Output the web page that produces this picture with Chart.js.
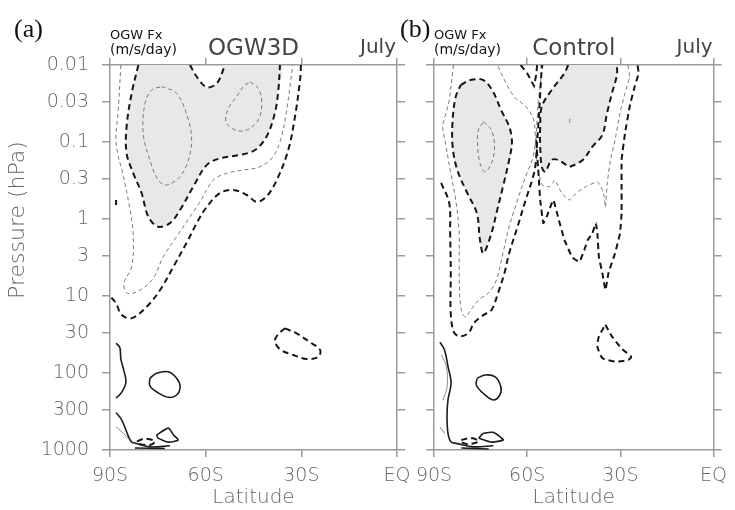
<!DOCTYPE html>
<html>
<head>
<meta charset="utf-8">
<script src="https://cdn.jsdelivr.net/npm/chart.js@4"></script>
<style>
  body { margin: 0; background: #fff; }
  canvas { position: absolute; left: 0; top: 0; }
</style>
</head>
<body>
<canvas id="panelA" width="735" height="510"></canvas>
<canvas id="panelB" width="735" height="510"></canvas>
<script>
const latTicks = [-90, -60, -30, 0];
const latLabels = ['90S', '60S', '30S', 'EQ'];
const pTicks = [0.01, 0.03, 0.1, 0.3, 1, 3, 10, 30, 100, 300, 1000];
const pLabels = ['0.01', '0.03', '0.1', '0.3', '1', '3', '10', '30', '100', '300', '1000'];

// contours are [latitude, pressure hPa] pairs

// (a) OGW3D
const aShadeEdge = [[-81.1,0.01],[-83.2,0.0233],[-84.8,0.063],[-84.8,0.14],[-82.7,0.255],[-80.1,0.46],[-78.0,0.93],[-74.9,1.26],[-71.2,1.13],[-68.0,0.76],[-63.9,0.38],[-59.7,0.20],[-55.5,0.163],[-49.2,0.147],[-44.5,0.127],[-40.9,0.085],[-38.3,0.042],[-37.2,0.0211],[-36.7,0.01]];
const aNotch = [[-64.9,0.01],[-62.8,0.0142],[-59.7,0.0194],[-56.5,0.0173],[-53.9,0.01]];
const aInner1 = [[-73.8,0.0191],[-69.1,0.0233],[-65.4,0.0518],[-64.4,0.0942],[-65.4,0.171],[-68.0,0.28],[-72.2,0.362],[-74.9,0.312],[-77.5,0.171],[-79.6,0.077],[-79.0,0.031],[-76.9,0.0211]];
const aInner2 = [[-46.1,0.0165],[-43.5,0.0201],[-42.4,0.0313],[-43.5,0.0518],[-47.1,0.0698],[-50.8,0.0698],[-53.6,0.0546],[-52.9,0.0365],[-50.3,0.0258],[-48.2,0.0191]];
const aThin = [[-86.6,0.01],[-87.4,0.0384],[-88.1,0.103],[-85.8,0.28],[-83.7,0.764],[-82.7,1.69],[-83.2,4.16],[-85.6,6.8],[-84.8,9.1],[-82.7,9.2],[-79.6,7.9],[-76.4,5.9],[-73.3,3.1],[-69.1,1.70],[-64.9,0.93],[-61.8,0.60],[-57.6,0.312],[-53.4,0.255],[-48.2,0.231],[-43.0,0.21],[-38.8,0.154],[-36.2,0.085],[-34.6,0.0384],[-33.3,0.0157],[-32.7,0.01]];
const aOuter = [[-30.1,0.01],[-30.4,0.0157],[-32.0,0.047],[-34.1,0.127],[-37.7,0.312],[-40.9,0.51],[-44.0,0.60],[-47.1,0.488],[-51.3,0.42],[-55.5,0.46],[-59.7,0.70],[-62.8,1.13],[-65.5,1.87],[-70.1,4.16],[-74.3,8.36],[-78.5,13.8],[-83.2,19.4],[-86.3,17.7],[-88.1,12.5],[-89.7,10.3]];
const aStub = [[-88.1,0.567],[-88.1,0.658]];
const aBlob = [[-35.1,26.3],[-31.5,30.6],[-27.3,39.8],[-24.1,50.3],[-24.7,61.6],[-28.3,65.8],[-32.5,58.4],[-36.7,49.2],[-38.3,38.2],[-37.2,31.4]];
const aPos1 = [[-88.1,41.0],[-86.9,47.0],[-86.6,65.5],[-85.8,88.3],[-85.0,131],[-86.3,177],[-88.1,212]];
const aPos2 = [[-77.5,117],[-75.4,101],[-71.7,96.6],[-69.1,117],[-68.0,150],[-69.1,193],[-71.7,207],[-74.9,181],[-77.5,147]];
const aPos3 = [[-88.1,327],[-86.3,408],[-84.8,580],[-83.7,741],[-82.7,820]];
const aPos3b = [[-88.1,500],[-85.8,608],[-84.3,700]];
const aPos4 = [[-75.4,638],[-71.7,520],[-70.1,638],[-68.6,741],[-71.7,790],[-74.9,700]];
const aSfc1 = [[-82.7,800],[-77.5,910],[-71.2,880]];
const aSfc2 = [[-82.2,940],[-72.8,955]];
const aSfcNeg = [[-81.5,770],[-79.0,712],[-75.9,770],[-77.5,861],[-81.5,820]];

// (b) Control
const bShadeL = [[-81.4,0.0182],[-78.3,0.0157],[-74.1,0.0157],[-71.0,0.0222],[-68.4,0.0384],[-65.8,0.063],[-64.9,0.099],[-65.8,0.171],[-67.8,0.38],[-69.9,0.84],[-71.5,1.53],[-74.1,2.78],[-75.2,1.87],[-76.2,0.84],[-79.3,0.46],[-82.5,0.231],[-84.0,0.115],[-84.0,0.0518],[-83.0,0.0258]];
const bInnerL = [[-74.1,0.0546],[-71.5,0.0698],[-70.5,0.115],[-71.5,0.189],[-73.6,0.243],[-75.2,0.189],[-76.0,0.104],[-75.7,0.0698]];
const bShadeR = [[-46.8,0.01],[-48.0,0.0128],[-52.1,0.0211],[-55.3,0.0347],[-55.8,0.063],[-55.8,0.115],[-55.3,0.21],[-54.2,0.243],[-52.1,0.171],[-50.1,0.171],[-46.9,0.205],[-46.3,0.21],[-42.1,0.171],[-39.0,0.115],[-35.8,0.0811],[-34.3,0.0424],[-32.7,0.0233],[-31.1,0.0135],[-31.1,0.01]];
const bThinL = [[-83.7,0.01],[-84.0,0.0122],[-85.1,0.0285],[-86.6,0.0493],[-87.2,0.063],[-86.1,0.115],[-84.6,0.255],[-83.0,0.567],[-81.9,1.53],[-81.9,4.16],[-81.4,13.8],[-79.9,18.7],[-77.8,14.4],[-75.2,10.9],[-72.5,9.2],[-69.9,6.2],[-67.8,2.78],[-65.8,1.26],[-63.1,0.567],[-60.5,0.28],[-58.4,0.171],[-57.4,0.104],[-57.4,0.077],[-57.9,0.0518],[-59.5,0.0384],[-61.6,0.0316],[-64.2,0.0258],[-66.8,0.0172],[-69.4,0.0105],[-69.9,0.01]];
const bOuterL = [[-87.7,0.34],[-85.1,0.62],[-84.8,1.53],[-84.6,5.0],[-84.6,16.9],[-83.5,30.0],[-81.4,33.3],[-78.8,30.0],[-77.2,22.6],[-74.1,17.7],[-71.5,15.2],[-69.4,9.2],[-67.3,5.0],[-65.8,2.78],[-63.1,1.26],[-60.5,0.567],[-58.4,0.312],[-57.4,0.21],[-56.9,0.115],[-56.3,0.0518],[-55.8,0.0233],[-55.3,0.0105],[-55.2,0.01]];
const bVee = [[-62.1,0.01],[-59.9,0.013],[-57.8,0.0187],[-57.1,0.0135],[-56.8,0.01]];
const bOuterR = [[-57.1,0.094],[-56.3,0.28],[-55.8,0.567],[-54.8,1.13],[-53.7,0.93],[-51.6,0.567],[-50.1,0.93],[-48.0,1.87],[-45.5,3.14],[-43.2,3.6],[-41.6,2.53],[-40.5,1.87],[-39.0,1.53],[-37.9,1.13],[-37.4,1.53],[-36.9,3.14],[-35.8,5.0],[-34.8,8.36],[-33.8,5.0],[-31.7,2.78],[-30.1,1.53],[-29.6,0.84],[-29.6,0.38],[-29.6,0.171],[-28.5,0.077],[-27.0,0.0347],[-25.4,0.0191],[-24.1,0.0128],[-24.5,0.01]];
const bThinR = [[-54.9,0.01],[-56.4,0.0285],[-57.1,0.094],[-56.8,0.199],[-55.2,0.362],[-52.7,0.38],[-51.1,0.312],[-48.9,0.46],[-46.4,0.567],[-44.2,0.46],[-41.1,0.38],[-37.3,0.33],[-35.4,0.46],[-34.8,0.70],[-34.2,0.34],[-33.2,0.171],[-31.7,0.094],[-30.1,0.042],[-28.5,0.023],[-27.0,0.0143],[-27.6,0.01]];
const bDots = [[-46.3,0.05],[-46.3,0.058]];
const bBlob = [[-34.8,23.6],[-32.7,33.5],[-29.6,48.0],[-26.5,61.8],[-27.5,67.8],[-31.7,71],[-35.8,64],[-37.4,45.0],[-36.9,33.5]];
const bPos1 = [[-88.1,39.8],[-86.6,50.3],[-85.5,82],[-84.5,135],[-85.5,224],[-85.8,365],[-85.5,608],[-84.5,790],[-82.9,820]];
const bPos1b = [[-87.6,58.4],[-86.0,82],[-85.8,152],[-87.1,224]];
const bPos1c = [[-88.1,500],[-86.6,608]];
const bPos2 = [[-76.1,117],[-73.5,106],[-70.3,112],[-68.5,150],[-68.8,193],[-70.9,224],[-74.0,186],[-76.4,143]];
const bPos3 = [[-75.6,700],[-74.0,608],[-70.9,590],[-68.8,670],[-67.7,741],[-71.4,790]];
const bSfc1 = [[-82.9,820],[-77.2,910],[-70.9,880]];
const bSfc2 = [[-81.2,940],[-72.4,970]];
const bSfcNeg = [[-81.2,741],[-78.1,700],[-75.6,770],[-78.8,840],[-81.2,790]];

const THICK = { borderColor: '#161616', borderWidth: 2, borderDash: [6, 4] };
const THIN = { borderColor: '#7a7a7a', borderWidth: 1, borderDash: [4, 3] };
const SOLID = { borderColor: '#1c1c1c', borderWidth: 1.6, borderDash: [] };
const FAINT = { borderColor: '#8a8a8a', borderWidth: 1, borderDash: [] };
const SHADE = '#e7e8e8';
const AXIS = '#9a9a9a';
const TEXT = '#666';
const FONT = 'DejaVu Sans';

function contour(pts, style, closed, tension) {
    const data = pts.map(([x, y]) => ({ x, y }));
    if (closed) data.push(data[0]);
    return Object.assign({ data, showLine: true, pointRadius: 0, fill: false,
        tension: tension === undefined ? 0.35 : tension }, style);
}

function shade(pts) {
    return { data: pts.map(([x, y]) => ({ x, y })), showLine: true, pointRadius: 0,
        tension: 0.35, fill: 'shape', backgroundColor: SHADE,
        borderColor: 'rgba(0,0,0,0)', borderWidth: 0 };
}

// panel letter, header texts and the rotated pressure label
const panelText = {
    id: 'panelText',
    afterDraw(chart, args, o) {
        const { ctx, chartArea: ca } = chart;
        ctx.save();
        ctx.textBaseline = 'alphabetic';
        ctx.fillStyle = '#111';
        ctx.textAlign = 'left';
        ctx.font = '26px "Liberation Serif"';
        ctx.fillText(o.tag, o.tagX, 37);
        ctx.font = '13px "' + FONT + '"';
        ctx.fillText('OGW Fx', ca.left, 39);
        ctx.font = '14px "' + FONT + '"';
        ctx.fillText('(m/s/day)', ca.left, 54);
        ctx.fillStyle = '#444';
        ctx.font = '23px "' + FONT + '"';
        ctx.textAlign = 'center';
        ctx.fillText(o.name, (ca.left + ca.right) / 2, 55);
        ctx.font = '20px "' + FONT + '"';
        ctx.textAlign = 'right';
        ctx.fillText('July', ca.right - 1, 53);
        if (o.yTitle) {
            ctx.translate(18, 220);
            ctx.rotate(-Math.PI / 2);
            ctx.fillStyle = TEXT;
            ctx.font = '200 22px "' + FONT + '"';
            ctx.textAlign = 'center';
            ctx.textBaseline = 'middle';
            ctx.fillText(o.yTitle, 0, 0);
        }
        ctx.restore();
    }
};

function axisTicks(list) {
    return (scale) => { scale.ticks = list.map(v => ({ value: v })); };
}

function makePanel(id, datasets, o) {
    const grid = (len) => ({ drawOnChartArea: false, drawTicks: true, tickLength: len, color: AXIS, lineWidth: 1.5 });
    const border = { color: AXIS, width: 1.5 };
    const tickFont = { family: FONT, size: 19, weight: '200' };
    return new Chart(document.getElementById(id), {
        type: 'scatter',
        data: { datasets },
        options: {
            responsive: false,
            animation: false,
            events: [],
            devicePixelRatio: 1,
            layout: { padding: { left: 0, right: o.padRight, top: 55, bottom: 0 } },
            plugins: {
                legend: { display: false },
                tooltip: { enabled: false },
                filler: { drawTime: 'beforeDatasetsDraw' },
                panelText: { tag: o.tag, tagX: o.tagX, name: o.name, yTitle: o.yTitle }
            },
            scales: {
                x: {
                    type: 'linear', position: 'bottom', min: -90, max: 0,
                    afterBuildTicks: axisTicks(latTicks),
                    ticks: { callback: (v, i) => latLabels[i], font: tickFont, color: TEXT, padding: 8, maxRotation: 0 },
                    grid: grid(7), border,
                    title: { display: true, text: 'Latitude', font: { family: FONT, size: 20, weight: '200' }, color: TEXT, padding: { top: 0, bottom: 0 } },
                    afterFit: (s) => { s.height = 60; }
                },
                x2: {
                    type: 'linear', position: 'top', min: -90, max: 0,
                    afterBuildTicks: axisTicks(latTicks),
                    ticks: { display: false },
                    grid: grid(7), border,
                    afterFit: (s) => { s.height = 10; }
                },
                y: {
                    type: 'logarithmic', position: 'left', reverse: true, min: 0.01, max: 1000,
                    afterBuildTicks: axisTicks(pTicks),
                    ticks: { display: o.yLabels, callback: (v, i) => pLabels[i], font: tickFont, color: TEXT, padding: 13 },
                    grid: grid(8), border,
                    afterFit: (s) => { s.width = o.yWidth; }
                },
                y2: {
                    type: 'logarithmic', position: 'right', reverse: true, min: 0.01, max: 1000,
                    afterBuildTicks: axisTicks(pTicks),
                    ticks: { display: false },
                    grid: grid(8), border,
                    afterFit: (s) => { s.width = 10; }
                }
            }
        },
        plugins: [panelText]
    });
}

makePanel('panelA', [
    shade(aShadeEdge.concat(aNotch.slice().reverse())),
    contour(aShadeEdge, THICK),
    contour(aNotch, THICK),
    contour(aInner1, THIN, true),
    contour(aInner2, THIN, true),
    contour(aThin, THIN),
    contour(aOuter, THICK),
    contour(aStub, THICK, false, 0),
    contour(aBlob, THICK, true),
    contour(aPos1, SOLID),
    contour(aPos2, SOLID, true),
    contour(aPos3, SOLID),
    contour(aPos3b, FAINT),
    contour(aPos4, SOLID, true, 0.2),
    contour(aSfc1, SOLID),
    contour(aSfc2, SOLID),
    contour(aSfcNeg, THICK, true)
], { padRight: 328, yWidth: 110, yLabels: true, yTitle: 'Pressure (hPa)', tag: '(a)', tagX: 14, name: 'OGW3D' });

makePanel('panelB', [
    shade(bShadeL.concat([bShadeL[0]])),
    shade(bShadeR),
    contour(bShadeL, THICK, true),
    contour(bInnerL, THIN, true),
    contour(bShadeR, THICK),
    contour(bThinL, THIN),
    contour(bOuterL, THICK),
    contour(bVee, THICK, false, 0),
    contour(bOuterR, THICK, false, 0.1),
    contour(bThinR, THIN, false, 0.15),
    contour(bDots, THIN, false, 0),
    contour(bBlob, THICK, true, 0.2),
    contour(bPos1, SOLID),
    contour(bPos1b, FAINT),
    contour(bPos1c, FAINT),
    contour(bPos2, SOLID, true),
    contour(bPos3, SOLID, true, 0.2),
    contour(bSfc1, SOLID),
    contour(bSfc2, SOLID),
    contour(bSfcNeg, THICK, true)
], { padRight: 3, yWidth: 434, yLabels: false, yTitle: '', tag: '(b)', tagX: 400, name: 'Control' });
</script>
</body>
</html>
